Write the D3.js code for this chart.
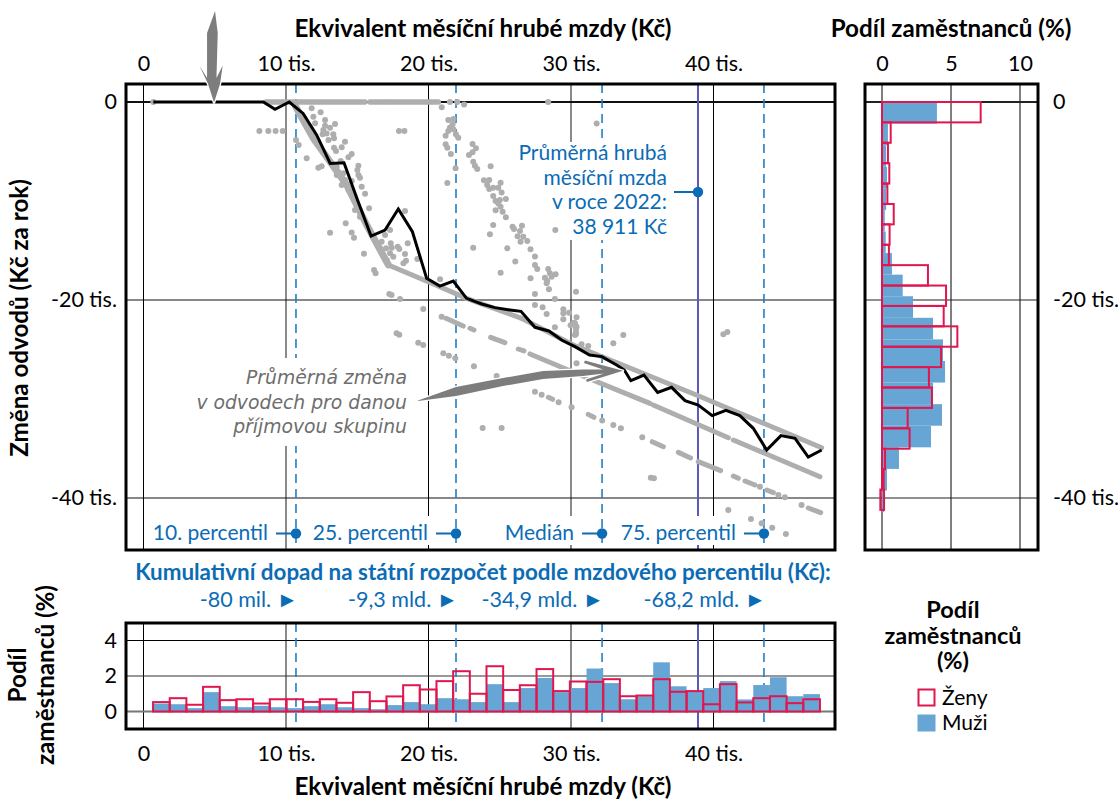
<!DOCTYPE html>
<html>
<head>
<meta charset="utf-8">
<script src="https://cdn.jsdelivr.net/npm/d3@7"></script>
<style>
html, body { margin: 0; background: #fff; }
text { font-family: Lato, "Noto Sans", sans-serif; }
</style>
</head>
<body>
<div id="chart"></div>
<script>
// ---- data (thousands of Kc) ----
var wageTicks = [0, 10, 20, 30, 40];
var changeTicks = [0, -20, -40];
var shareTicks = [0, 5, 10];
var bottomShareTicks = [0, 2, 4];

var percentiles = [
	{ value: 10.7, label: "10. percentil", total: "-80 mil." },
	{ value: 21.93, label: "25. percentil", total: "-9,3 mld." },
	{ value: 32.18, label: "Medián", total: "-34,9 mld." },
	{ value: 43.54, label: "75. percentil", total: "-68,2 mld." }
];
var meanWage = 38.911;

// average change per income group (black line)
var meanLineX = [0.69, 1.2, 2.2, 3.2, 4.2, 5.2, 6.2, 7.2, 8.41, 9.23, 10.23, 11.2, 12.15, 13.1, 14.07, 15.0, 15.97, 16.95, 17.88, 18.87, 19.87, 20.8, 21.74, 22.67, 23.73, 24.66, 25.71, 26.49, 27.47, 28.45, 29.34, 30.28, 31.3, 32.17, 33.2, 33.74, 34.2, 35.12, 36.08, 37.06, 38.0, 38.93, 39.91, 40.87, 41.85, 42.79, 43.73, 44.73, 45.72, 46.65, 47.59];
var meanLineY = [0, 0, 0, 0, 0, 0, 0, 0, 0, -0.74, 0, -1.15, -3.33, -6.2, -6.13, -9.83, -13.54, -12.93, -10.81, -13.1, -17.81, -18.59, -18.08, -19.83, -20.4, -20.77, -21.0, -21.15, -22.76, -23.13, -24.04, -24.71, -25.56, -25.72, -26.57, -27.07, -28.15, -27.58, -29.33, -28.82, -30.17, -30.61, -31.68, -31.15, -31.68, -32.96, -35.15, -33.7, -33.97, -35.86, -35.15];

// places where the employee points merge into solid runs
var denseRuns = [
	{ w: 5.5, pts: [[8.6, 0], [15.54, 0]] },
	{ w: 5.5, pts: [[15.89, 0], [17.06, 0]] },
	{ w: 5.5, pts: [[17.18, 0], [19.05, 0]] },
	{ w: 5.5, pts: [[19.17, 0], [20.69, 0]] },
	{ w: 7, pts: [[10.68, -0.47], [11.92, -3.67], [14.26, -8.38], [15.66, -12.42], [17.18, -16.46]] },
	{ w: 5, pts: [[17.18, -16.46], [19.98, -18.15], [22.67, -19.83], [26.53, -21.85], [30.16, -24.55], [38.8, -29.6], [47.59, -34.92]] },
	{ w: 5, pts: [[27.12, -25.45], [29.93, -27.14], [35.54, -30.44]] },
	{ w: 5, pts: [[35.77, -30.61], [41.04, -33.91]] },
	{ w: 5, pts: [[41.39, -34.14], [47.47, -37.85]] },
	{ w: 5, pts: [[21.22, -21.85], [22.44, -22.63]] },
	{ w: 5, pts: [[22.91, -22.86], [23.19, -23.03]] },
	{ w: 5, pts: [[24.36, -23.77], [25.36, -24.31]] },
	{ w: 5, pts: [[26.3, -24.95], [26.7, -25.15]] },
	{ w: 5, pts: [[28.41, -29.83], [28.71, -30.03]] },
	{ w: 5, pts: [[31.21, -31.55], [31.61, -31.85]] },
	{ w: 5, pts: [[35.7, -34.31], [36.48, -34.82]] },
	{ w: 5, pts: [[37.53, -35.39], [38.39, -35.96]] },
	{ w: 5, pts: [[38.93, -36.33], [40.5, -37.24]] },
	{ w: 5, pts: [[41.39, -37.78], [41.74, -38.01]] },
	{ w: 5, pts: [[42.21, -38.28], [42.91, -38.69]] },
	{ w: 5, pts: [[43.73, -39.19], [44.2, -39.46]] },
	{ w: 5, pts: [[46.65, -41.01], [47.52, -41.48]] }
];

var scatterDots = [
	[0.69,0],[21.5,0],[22.02,0],[22.5,-0.24],[28.4,0],
	[8.13,-2.93],[8.76,-2.93],[9.27,-2.93],[9.77,-2.93],
	[11.8,-0.64],[12.43,-1.04],[11.92,-1.48],[12.04,-2.15],[12.74,-1.82],[12.74,-2.39],[13.09,-2.59],[12.62,-2.83],[12.57,-3.27],[12.85,-3.17],
	[13.44,-2.22],[12.98,-3.84],[13.32,-3.27],[13.37,-3.67],[14.14,-4.01],[13.91,-4.58],[13.37,-4.61],[13.51,-4.95],[14.61,-5.25],[14.38,-5.59],
	[13.84,-5.96],[10.7,-3.84],[10.89,-4.34],[11.45,-5.69],[12.27,-6.63],[12.5,-6.5],[15.08,-6.43],[15.01,-6.87],[15.08,-7.37],[15.19,-7.64],
	[14.02,-7.2],[13.67,-7.1],[13.56,-7.37],[14.14,-7.88],[14.61,-7.98],[15.31,-8.55],[15.55,-9.26],[14.61,-9.39],[15.83,-10.74],[14.19,-12.26],
	[13.09,-13.2],[14.61,-13.17],[14.77,-13.7],[15.47,-15.32],[16.18,-16.97],[16.29,-17.3],[18.35,-11.01],[17.3,-12.93],[16.95,-13.44],[18.54,-14.28],
	[17.35,-14.28],[17.42,-14.71],[17.84,-14.61],[17.95,-14.85],[18.35,-15.35],[17.53,-15.62],[18.24,-16.3],[18.42,-16.03],[19.22,-15.86],
	[17.93,-2.93],[18.31,-2.93],[20.93,-0.54],[20.81,-17.91],
	[16.36,-14.28],[16.6,-14.78],[16.83,-15.45],[17.07,-15.96],[16.71,-14.11],[17.3,-15.29],[17.02,-14.78],[14.84,-10.91],[15.19,-11.58],
	[13.56,-6.53],[13.91,-8.38],[14.38,-8.89],
	[21.39,-1.82],[21.74,-1.72],[21.69,-2.26],[21.5,-2.59],[21.74,-2.76],[21.39,-2.93],[21.2,-3.4],[21.92,-3.27],[22.09,-3.6],[21.2,-4.28],[21.32,-4.61],
	[21.57,-5.25],[21.9,-6.7],[21.32,-8.18],[23.09,-4.24],[23.33,-4.68],[23.09,-5.08],[22.84,-5.35],[23.14,-6.03],[23.26,-6.43],[23.42,-6.77],[24.36,-6.5],
	[23.89,-7.91],[24.26,-7.88],[24.12,-8.38],[24.26,-8.79],[24.54,-8.65],[24.9,-8.65],[25.06,-8.15],[25.13,-9.13],[24.54,-9.5],[24.71,-10.0],[25.01,-9.9],
	[25.43,-9.8],[24.9,-10.24],[25.06,-10.57],[24.71,-10.94],[25.2,-11.08],[25.43,-11.65],[24.54,-12.43],[24.31,-13.37],[23.14,-14.71],[25.53,-14.78],
	[26.09,-16.1],[25.06,-17.24],[25.9,-12.59],[26.0,-12.83],[26.56,-12.49],[26.42,-13.03],[26.25,-13.57],[26.65,-13.6],[26.46,-14.11],[26.93,-14.04],
	[27.16,-14.88],[27.47,-15.6],[27.47,-16.47],[27.63,-16.87],[28.4,-16.87],[28.52,-17.31],[27.16,-17.81],[28.17,-17.74],[28.33,-18.08],[28.64,-17.64],
	[28.92,-17.41],[28.9,-12.93],[31.8,-2.16],
	[17.25,-19.39],[17.41,-19.5],[18.0,-19.9],[19.63,-20.91],[20.92,-21.68],[17.76,-23.37],[17.95,-23.5],[19.28,-24.31],[19.63,-24.55],[21.04,-25.39],
	[21.43,-25.62],[21.88,-25.89],[23.19,-26.7],[24.78,-27.68],[23.8,-32.93],[25.13,-32.93],[27.47,-29.26],[27.94,-29.56],[29.13,-30.34],[30.04,-30.84],
	[32.19,-32.16],[28.29,-18.32],[28.45,-18.92],[30.35,-19.16],[27.47,-19.39],[28.87,-19.9],[27.47,-20.51],[28.01,-20.74],[28.29,-21.41],[28.87,-22.76],
	[29.46,-20.94],[29.46,-21.35],[29.86,-21.28],[29.46,-21.95],[30.39,-21.75],[30.2,-22.29],[29.97,-22.56],[30.35,-22.86],[30.35,-23.43],[30.74,-24.48],
	[31.21,-24.65],[30.28,-22.36],[30.39,-22.69],[30.35,-23.2],[30.28,-23.54],[33.67,-23.54],[32.97,-24.38],[30.39,-26.4],
	[32.97,-32.63],[33.5,-32.96],[35.0,-33.87],[43.26,-38.86],[44.55,-39.7],[45.01,-39.93],[46.18,-40.71],
	[41.04,-41.2],[42.63,-42.12],[43.38,-42.56],[44.12,-43.0],[45.08,-43.64],[40.69,-23.47],[40.97,-23.23],[35.82,-38.0],[35.6,-37.95]
];

// share of employees by wage bin (bottom panel)
var wageBinStart = 0.67, wageBinWidth = 1.17;
var womenByWage = [0.53,0.75,0.38,1.39,0.64,0.69,0.45,0.69,0.69,0.54,0.69,0.49,1.09,0.58,0.85,1.48,1.24,1.71,2.27,1.0,2.55,1.21,1.48,2.39,1.15,1.69,1.67,1.82,0.86,0.9,1.82,1.11,1.15,0.41,1.54,0.51,0.75,0.86,0.47,0.69];
var menByWage = [0.45,0.41,0.19,1.09,0.3,0.24,0.32,0.24,0.19,0.3,0.41,0.24,0.19,0.13,0.36,0.53,0.41,0.75,0.69,0.53,1.54,0.53,1.32,1.89,1.09,1.32,2.42,1.6,0.69,0.86,2.77,1.42,1.15,1.32,1.71,0.68,1.49,1.93,0.86,0.98];

// share of employees by change in contributions (right panel)
var womenBinHeight = 2.06, menBinHeight = 2.18;
var womenByChange = [7.15,0.63,0.43,0.53,0.39,0.85,0.55,0.5,3.33,4.64,4.47,5.46,4.28,3.4,3.62,1.86,2.0,0.22,0.12,0.15];
var menByChange = [3.98,0.43,0.29,0.36,0.3,0.2,0.27,0.72,1.5,2.25,3.7,4.42,4.57,3.7,4.35,3.55,1.23,0.36,0.15];
var womenLastBinStart = -0.12;

// hand drawn arrows, outlines in chart units
var topArrow = [[5.02,9.19],[5.21,6.97],[5.12,2.42],[5.56,3.69],[5.37,1.82],[4.95,-0.05],[4.53,1.82],[3.92,3.69],[4.46,2.42],[4.46,6.97]];
var sideArrow = [[19.26,-30.15],[21.93,-28.79],[25.23,-27.88],[28.04,-27.17],[30.84,-27.02],[32.25,-27.02],[30.91,-26.36],[30.98,-26.11],[33.65,-27.14],[31.12,-28.28],[31.05,-28.03],[32.32,-27.42],[30.84,-27.68],[28.04,-27.98],[25.23,-28.69],[21.93,-29.7],[19.26,-30.2]];

var annotationLines = ["Průměrná změna", "v odvodech pro danou", "příjmovou skupinu"];
var meanLabelLines = ["Průměrná hrubá", "měsíční mzda", "v roce 2022:", "38 911 Kč"];

// ---- colours and layout ----
var BLUE = "#0b6cb5", DASH = "#1f7fc4", PURPLE = "#5a5ab8", BAR = "#67a5d4", RED = "#e0174f", DOT = "#aeaeae", ARROW = "#7d7d7d", HAND = "#6e6e6e";
var TICK_SIZE = 21.5, LABEL_SIZE = 21, TITLE_SIZE = 24.2;

var svg = d3.select("#chart").append("svg").attr("width", 1118).attr("height", 800).style("display", "block");

var x = d3.scaleLinear().domain([0, 40]).range([143.5, 713.5]);
var y = d3.scaleLinear().domain([0, -40]).range([102, 498]);
var xShare = d3.scaleLinear().domain([0, 10]).range([882, 1020]);
var yShare = d3.scaleLinear().domain([0, 4]).range([711.5, 640.5]);

var main = { left: 126, right: 835, top: 84, bottom: 550 };
var side = { left: 865, right: 1038, top: 84, bottom: 550 };
var low = { left: 126, right: 835, top: 623, bottom: 729 };

var fmt = function(d) { return d === 0 ? "0" : d + " tis."; };
var isGray = function(d) { return d === 10 || d === 30; };

var vGrid = function(panel, scale, ticks, colorOf) {
	svg.append("g").selectAll("line").data(ticks).join("line")
		.attr("x1", scale).attr("x2", scale)
		.attr("y1", panel.top).attr("y2", panel.bottom)
		.attr("stroke", colorOf)
		.attr("stroke-width", function(d) { return colorOf(d) === "#000" ? 1 : 1.6; });
};

var hGrid = function(panel, scale, ticks, widthOf, colorOf) {
	svg.append("g").selectAll("line").data(ticks).join("line")
		.attr("x1", panel.left).attr("x2", panel.right)
		.attr("y1", scale).attr("y2", scale)
		.attr("stroke", colorOf).attr("stroke-width", widthOf);
};

var wageColor = function(d) { return isGray(d) ? "#6c6c6c" : "#000"; };

// percentile and mean reference lines
var refLines = function(panel) {
	svg.append("g").selectAll("line").data(percentiles).join("line")
		.attr("x1", function(d) { return x(d.value); }).attr("x2", function(d) { return x(d.value); })
		.attr("y1", panel.top).attr("y2", panel.bottom)
		.attr("stroke", DASH).attr("stroke-width", 1.6).attr("stroke-dasharray", "9 6");
	svg.append("line")
		.attr("x1", x(meanWage)).attr("x2", x(meanWage))
		.attr("y1", panel.top).attr("y2", panel.bottom)
		.attr("stroke", PURPLE).attr("stroke-width", 2);
};

var styleAxis = function(g, size) {
	g.select(".domain").remove();
	g.selectAll("text").attr("fill", "#000").style("font-size", size + "px");
};

var frame = function(panel) {
	svg.append("rect")
		.attr("x", panel.left).attr("y", panel.top)
		.attr("width", panel.right - panel.left).attr("height", panel.bottom - panel.top)
		.attr("fill", "none").attr("stroke", "#000").attr("stroke-width", 3);
};

// ---- main panel ----
vGrid(main, x, wageTicks, wageColor);
hGrid(main, y, changeTicks, function(d) { return d === 0 ? 2 : 1; }, function(d) { return "#111"; });
refLines(main);

// white patches behind the labels cut the grid
var patches = [[190, 358, 222, 88], [512, 142, 160, 98], [312, 516, 126, 29], [500, 516, 90, 29], [618, 516, 132, 29]];
svg.append("g").selectAll("rect").data(patches).join("rect")
	.attr("x", function(d) { return d[0]; }).attr("y", function(d) { return d[1]; })
	.attr("width", function(d) { return d[2]; }).attr("height", function(d) { return d[3]; })
	.attr("fill", "#fff");

svg.append("g").selectAll("circle").data(scatterDots).join("circle")
	.attr("cx", function(d) { return x(d[0]); }).attr("cy", function(d) { return y(d[1]); })
	.attr("r", 3).attr("fill", DOT);

var runLine = d3.line().x(function(d) { return x(d[0]); }).y(function(d) { return y(d[1]); });
svg.append("g").selectAll("path").data(denseRuns).join("path")
	.attr("d", function(d) { return runLine(d.pts); })
	.attr("fill", "none").attr("stroke", DOT)
	.attr("stroke-width", function(d) { return d.w; }).attr("stroke-linecap", "round");

svg.append("path")
	.attr("d", d3.line().x(function(d) { return x(d); }).y(function(d, i) { return y(meanLineY[i]); })(meanLineX))
	.attr("fill", "none").attr("stroke", "#000").attr("stroke-width", 3).attr("stroke-linejoin", "miter");

// percentile labels with their dots
var labelRow = 533.5;
var labels = svg.append("g").selectAll("g").data(percentiles).join("g");
labels.append("line")
	.attr("x1", function(d) { return x(d.value) - 20; }).attr("x2", function(d) { return x(d.value); })
	.attr("y1", labelRow).attr("y2", labelRow)
	.attr("stroke", BLUE).attr("stroke-width", 2);
labels.append("circle")
	.attr("cx", function(d) { return x(d.value); }).attr("cy", labelRow).attr("r", 5.2).attr("fill", BLUE);
labels.append("text")
	.attr("x", function(d) { return x(d.value) - 28; }).attr("y", labelRow + 6.5)
	.attr("text-anchor", "end").attr("fill", BLUE).style("font-size", LABEL_SIZE + "px")
	.text(function(d) { return d.label; });

// mean wage label
svg.append("g").selectAll("text").data(meanLabelLines).join("text")
	.attr("x", 667).attr("y", function(d, i) { return 160 + i * 24.7; })
	.attr("text-anchor", "end").attr("fill", BLUE).style("font-size", LABEL_SIZE + "px")
	.text(function(d) { return d; });
svg.append("line")
	.attr("x1", 674).attr("x2", x(meanWage)).attr("y1", 192).attr("y2", 192)
	.attr("stroke", BLUE).attr("stroke-width", 2);
svg.append("circle").attr("cx", x(meanWage)).attr("cy", 192).attr("r", 5.2).attr("fill", BLUE);

frame(main);

// arrows go over the frame, with a white edge
svg.append("g").selectAll("path").data([topArrow, sideArrow]).join("path")
	.attr("d", function(d) { return runLine(d) + "Z"; })
	.attr("fill", ARROW).attr("stroke", "#fff").attr("stroke-width", 2.5)
	.attr("stroke-linejoin", "round").attr("paint-order", "stroke");

svg.append("g").selectAll("text").data(annotationLines).join("text")
	.attr("x", 407).attr("y", function(d, i) { return 384 + i * 24.6; })
	.attr("text-anchor", "end").attr("fill", HAND)
	.style("font-family", "'DejaVu Sans', sans-serif").style("font-style", "italic").style("font-size", "18.8px")
	.text(function(d) { return d; });

// axes of the main panel
svg.append("g").attr("transform", "translate(0,71)")
	.call(d3.axisTop(x).tickValues(wageTicks).tickFormat(fmt).tickSize(0).tickPadding(0))
	.call(styleAxis, TICK_SIZE);
svg.append("g").attr("transform", "translate(117,0)")
	.call(d3.axisLeft(y).tickValues(changeTicks).tickFormat(fmt).tickSize(0).tickPadding(0))
	.call(styleAxis, TICK_SIZE);
svg.append("g").attr("transform", "translate(1053,0)")
	.call(d3.axisRight(y).tickValues(changeTicks).tickFormat(fmt).tickSize(0).tickPadding(0))
	.call(styleAxis, TICK_SIZE);

// ---- right panel ----
vGrid(side, xShare, shareTicks, function(d) { return "#000"; });
hGrid(side, y, changeTicks, function(d) { return d === 0 ? 2 : 1.2; }, function(d) { return "#222"; });
svg.append("g").selectAll("rect").data(menByChange).join("rect")
	.attr("x", xShare(0))
	.attr("y", function(d, i) { return y(-i * menBinHeight); })
	.attr("width", function(d) { return xShare(d) - xShare(0); })
	.attr("height", function(d, i) { return y(-(i + 1) * menBinHeight) - y(-i * menBinHeight); })
	.attr("fill", BAR);
svg.append("g").selectAll("rect").data(womenByChange).join("rect")
	.attr("x", function(d, i) { return i === womenByChange.length - 1 ? xShare(womenLastBinStart) : xShare(0); })
	.attr("y", function(d, i) { return y(-i * womenBinHeight); })
	.attr("width", function(d, i) { return xShare(d) - (i === womenByChange.length - 1 ? xShare(womenLastBinStart) : xShare(0)); })
	.attr("height", function(d, i) { return y(-(i + 1) * womenBinHeight) - y(-i * womenBinHeight); })
	.attr("fill", "none").attr("stroke", RED).attr("stroke-width", 2);
frame(side);
svg.append("g").attr("transform", "translate(0,71)")
	.call(d3.axisTop(xShare).tickValues(shareTicks).tickFormat(d3.format("d")).tickSize(0).tickPadding(0))
	.call(styleAxis, TICK_SIZE);

// ---- bottom panel ----
vGrid(low, x, wageTicks, wageColor);
hGrid(low, yShare, bottomShareTicks, function(d) { return d === 0 ? 2 : 1.2; }, function(d) { return d === 4 ? "#000" : d === 2 ? "#333" : "#777"; });
refLines(low);
var binLeft = function(i) { return x(wageBinStart + i * wageBinWidth); };
var binW = function(i) { return binLeft(i + 1) - binLeft(i); };
svg.append("g").selectAll("rect").data(menByWage).join("rect")
	.attr("x", function(d, i) { return binLeft(i); }).attr("y", yShare)
	.attr("width", function(d, i) { return binW(i); })
	.attr("height", function(d) { return yShare(0) - yShare(d); })
	.attr("fill", BAR);
svg.append("g").selectAll("rect").data(womenByWage).join("rect")
	.attr("x", function(d, i) { return binLeft(i); }).attr("y", yShare)
	.attr("width", function(d, i) { return binW(i); })
	.attr("height", function(d) { return yShare(0) - yShare(d); })
	.attr("fill", "none").attr("stroke", RED).attr("stroke-width", 2);
frame(low);
svg.append("g").attr("transform", "translate(0,761)")
	.call(d3.axisBottom(x).tickValues(wageTicks).tickFormat(fmt).tickSize(0).tickPadding(0))
	.call(function(g) { styleAxis(g, TICK_SIZE); g.selectAll("text").attr("dy", 0); });
svg.append("g").attr("transform", "translate(117,0)")
	.call(d3.axisLeft(yShare).tickValues(bottomShareTicks).tickFormat(d3.format("d")).tickSize(0).tickPadding(0))
	.call(styleAxis, TICK_SIZE);

// ---- titles ----
var bold = function(str, px, py, size, anchor, fill, rotate) {
	var t = svg.append("text").attr("text-anchor", anchor || "middle")
		.attr("fill", fill || "#000").style("font-weight", "700").style("font-size", size + "px").text(str);
	if (rotate) { t.attr("transform", "translate(" + px + "," + py + ") rotate(-90)"); }
	else { t.attr("x", px).attr("y", py); }
};
bold("Ekvivalent měsíční hrubé mzdy (Kč)", 483, 37, TITLE_SIZE);
bold("Podíl zaměstnanců (%)", 951, 37, TITLE_SIZE);
bold("Změna odvodů (Kč za rok)", 28, 318, TITLE_SIZE, "middle", "#000", true);
bold("Ekvivalent měsíční hrubé mzdy (Kč)", 483, 795, TITLE_SIZE);
bold("Podíl", 26, 675, TITLE_SIZE, "middle", "#000", true);
bold("zaměstnanců (%)", 54, 675, TITLE_SIZE, "middle", "#000", true);
bold("Podíl", 953, 618, 23.5);
bold("zaměstnanců", 953, 644, 23.5);
bold("(%)", 953, 669, 23.5);

bold("Kumulativní dopad na státní rozpočet podle mzdového percentilu (Kč):", 483, 580, 22.4, "middle", BLUE);
svg.append("g").selectAll("text").data(percentiles).join("text")
	.attr("x", function(d) { return x(d.value) + 2; }).attr("y", 607)
	.attr("text-anchor", "end").attr("fill", BLUE).style("font-size", TICK_SIZE + "px")
	.text(function(d) { return d.total + " ►"; });

// ---- legend ----
svg.append("rect").attr("x", 918.5).attr("y", 689.5).attr("width", 16).attr("height", 16)
	.attr("fill", "none").attr("stroke", RED).attr("stroke-width", 2);
svg.append("rect").attr("x", 917.5).attr("y", 714.5).attr("width", 18).attr("height", 17).attr("fill", BAR);
svg.append("text").attr("x", 942).attr("y", 705).style("font-size", LABEL_SIZE + "px").text("Ženy");
svg.append("text").attr("x", 942).attr("y", 730).style("font-size", LABEL_SIZE + "px").text("Muži");
</script>
</body>
</html>
